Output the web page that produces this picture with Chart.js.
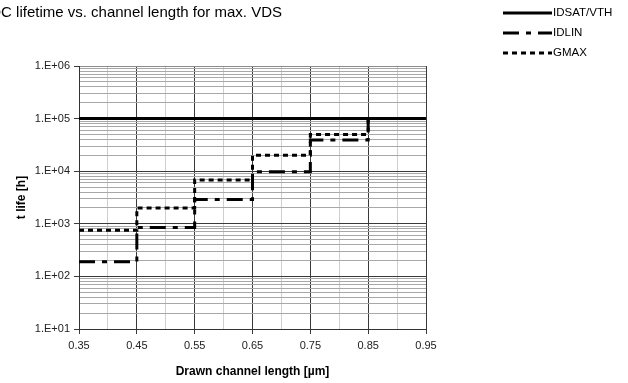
<!DOCTYPE html>
<html>
<head>
<meta charset="utf-8">
<script src="https://cdn.jsdelivr.net/npm/chart.js@4/dist/chart.umd.min.js"></script>
<style>
  html, body { margin: 0; padding: 0; background: #ffffff; }
  #wrap { width: 628px; height: 383px; position: relative; }
</style>
</head>
<body>
<div id="wrap"><canvas id="c" width="628" height="383"></canvas></div>
<script>
// ---- data ----
const chartTitle = "DC lifetime vs. channel length for max. VDS";
const xTitle = "Drawn channel length [µm]";
const yTitle = "t life [h]";
const seriesNames = ["IDSAT/VTH", "IDLIN", "GMAX"];

// step edges (drawn channel length, µm)
const stepEdges = [0.35, 0.45, 0.55, 0.65, 0.75, 0.85];
// IDSAT/VTH constant lifetime across the full range
const idsatX = [0.35, 0.95];
const idsatY = [100000, 100000];
// step levels for each interval between edges
const idlinLevels = [190, 850, 2900, 9800, 39000];
const gmaxLevels  = [750, 2000, 6800, 20000, 50000];
// value both step lines rise to at the last edge
const stepEndY = 100000;

// axis ticks
const xTickValues = [0.35, 0.45, 0.55, 0.65, 0.75, 0.85, 0.95];
const xTickLabels = ["0.35", "0.45", "0.55", "0.65", "0.75", "0.85", "0.95"];
const yTickValues = [10, 100, 1000, 10000, 100000, 1000000];
const yTickLabels = ["1.E+01", "1.E+02", "1.E+03", "1.E+04", "1.E+05", "1.E+06"];

function pts(xs, ys) { return xs.map((x, i) => ({ x: x, y: ys[i] })); }
// build step-line vertices: horizontal over each interval, vertical at edges
function steps(edges, levels, endY) {
  const out = [];
  for (let i = 0; i < levels.length; i++) {
    out.push({ x: edges[i], y: levels[i] });
    out.push({ x: edges[i + 1], y: levels[i] });
  }
  out.push({ x: edges[levels.length], y: endY });
  return out;
}

const FONT = "'Liberation Sans', Arial, sans-serif";
const MAJOR_GRID = '#3a3a3a';
const MINOR_GRID_Y = '#a8a8a8';
const MINOR_GRID_X = '#cfcfcf';

const legendPlugin = {
  id: 'customLegendTitle',
  afterDraw(chart) {
    const ctx = chart.ctx;
    ctx.save();
    // title (clipped at the left edge as in the reference)
    ctx.fillStyle = '#000';
    ctx.font = "15px " + FONT;
    ctx.textAlign = 'right';
    ctx.textBaseline = 'middle';
    ctx.fillText(chartTitle, 282, 13);
    // legend
    const ys = [13, 33, 53];
    chart.data.datasets.forEach((ds, i) => {
      ctx.beginPath();
      ctx.strokeStyle = ds.borderColor;
      ctx.lineWidth = ds.borderWidth;
      ctx.lineCap = 'butt';
      ctx.setLineDash(ds.borderDash || []);
      ctx.moveTo(503, ys[i]);
      ctx.lineTo(552, ys[i]);
      ctx.stroke();
      ctx.setLineDash([]);
      ctx.fillStyle = '#000';
      ctx.font = "11.5px " + FONT;
      ctx.textAlign = 'left';
      ctx.textBaseline = 'middle';
      ctx.fillText(ds.label, 553, ys[i]);
    });
    ctx.restore();
  }
};

new Chart(document.getElementById('c'), {
  type: 'line',
  data: {
    datasets: [
      {
        label: seriesNames[0],
        data: pts(idsatX, idsatY),
        borderColor: '#000', borderWidth: 3, pointRadius: 0,
        borderCapStyle: 'butt', borderDash: []
      },
      {
        label: seriesNames[1],
        data: steps(stepEdges, idlinLevels, stepEndY),
        borderColor: '#000', borderWidth: 3, pointRadius: 0,
        borderCapStyle: 'butt', borderDash: [16, 7, 5, 7]
      },
      {
        label: seriesNames[2],
        data: steps(stepEdges, gmaxLevels, stepEndY),
        borderColor: '#000', borderWidth: 3, pointRadius: 0,
        borderCapStyle: 'butt', borderDash: [5, 4]
      }
    ]
  },
  options: {
    responsive: false,
    animation: false,
    devicePixelRatio: 1,
    layout: { padding: { top: 66, right: 202, bottom: 0, left: 0 } },
    plugins: {
      legend: { display: false },
      title: { display: false },
      tooltip: { enabled: false }
    },
    scales: {
      x: {
        type: 'linear',
        min: 0.35, max: 0.95,
        afterFit(scale) { scale.height = 54; },
        afterBuildTicks(scale) {
          const t = [];
          for (let i = 0; i < xTickValues.length; i++) {
            t.push({ value: xTickValues[i], major: true });
            if (i < xTickValues.length - 1) {
              t.push({ value: Math.round((xTickValues[i] + xTickValues[i + 1]) / 2 * 1000) / 1000, major: false });
            }
          }
          scale.ticks = t;
        },
        ticks: {
          autoSkip: false,
          maxRotation: 0,
          padding: 5,
          color: '#222',
          font: { family: FONT, size: 11 },
          callback(value) {
            const i = xTickValues.findIndex(v => Math.abs(v - value) < 1e-6);
            return i >= 0 ? xTickLabels[i] : '';
          }
        },
        grid: {
          color: (c) => (c.tick && c.tick.major) ? MAJOR_GRID : MINOR_GRID_X,
          tickColor: (c) => (c.tick && c.tick.major) ? MAJOR_GRID : 'rgba(0,0,0,0)',
          tickLength: 5,
          lineWidth: 1
        },
        border: { color: '#333', width: 1 },
        title: {
          display: true,
          text: xTitle,
          color: '#000',
          font: { family: FONT, size: 12, weight: 'bold' },
          padding: { top: 0, bottom: 4 }
        }
      },
      y: {
        type: 'logarithmic',
        min: 10, max: 1000000,
        afterFit(scale) { scale.width = 79; },
        afterBuildTicks(scale) {
          const t = [];
          for (let d = 0; d < yTickValues.length; d++) {
            t.push({ value: yTickValues[d], major: true });
            if (d < yTickValues.length - 1) {
              for (let k = 2; k <= 9; k++) t.push({ value: yTickValues[d] * k, major: false });
            }
          }
          scale.ticks = t;
        },
        ticks: {
          autoSkip: false,
          padding: 4,
          color: '#222',
          font: { family: FONT, size: 11 },
          callback(value) {
            const i = yTickValues.findIndex(v => Math.abs(v - value) < 1e-6 * v);
            return i >= 0 ? yTickLabels[i] : '';
          }
        },
        grid: {
          color: (c) => {
            if (!c.tick) return MINOR_GRID_Y;
            if (c.tick.value === yTickValues[yTickValues.length - 1]) return '#8c8c8c';
            return c.tick.major ? MAJOR_GRID : MINOR_GRID_Y;
          },
          tickColor: (c) => (c.tick && c.tick.major) ? MAJOR_GRID : 'rgba(0,0,0,0)',
          tickLength: 5,
          lineWidth: 1
        },
        border: { color: '#333', width: 1 },
        title: {
          display: true,
          text: yTitle,
          color: '#000',
          font: { family: FONT, size: 12, weight: 'bold' },
          padding: { top: 14, bottom: 0 }
        }
      }
    }
  },
  plugins: [legendPlugin]
});
</script>
</body>
</html>
